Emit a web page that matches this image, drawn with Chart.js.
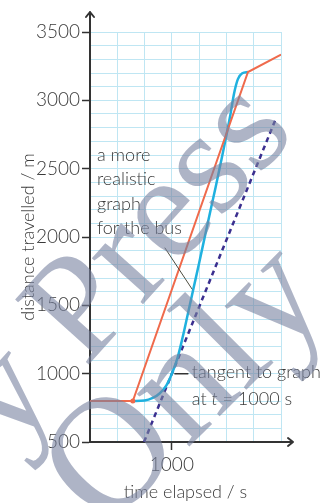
<!DOCTYPE html>
<html>
<head>
<meta charset="utf-8">
<script src="https://cdn.jsdelivr.net/npm/chart.js@4"></script>
<style>
  html, body { margin: 0; padding: 0; background: #fff; }
  #wrap { width: 334px; height: 503px; }
</style>
</head>
<body>
<div id="wrap"><canvas id="busChart" width="334" height="503"></canvas></div>
<script>
// DATA
const timeBus = [700, 857, 1279, 1400];
const distBus = [800, 800, 3207, 3335];

const timeReal = [857, 900, 930, 955, 980, 1000, 1020, 1040, 1060, 1080, 1100, 1120, 1140, 1160, 1180, 1200, 1215, 1228, 1242, 1258, 1279];
const distReal = [800, 803, 822, 855, 915, 1000, 1110, 1270, 1450, 1630, 1810, 1995, 2180, 2360, 2550, 2745, 2900, 3050, 3155, 3198, 3207];

const timeTangent = [898, 1378];
const distTangent = [500, 2850];

const xTickLabels = [1000];
const yTickLabels = [500, 1000, 1500, 2000, 2500, 3000, 3500];

const FONT = '"Lato Light", Lato';
const TEXT = '#3a3a3a';
const AXIS = '#333333';

function toPoints(xs, ys) {
    return xs.map((t, i) => ({ x: t, y: ys[i] }));
}

// EXTRA DRAWING: axis arrows, notes, watermark
const extras = {
    id: 'extras',
    afterDraw(chart) {
        const { ctx, scales: { x, y } } = chart;
        const x0 = x.left, y0 = y.bottom;

        ctx.save();
        ctx.strokeStyle = AXIS;
        ctx.lineWidth = 2;
        ctx.lineCap = 'round';
        ctx.lineJoin = 'round';
        // y arrow
        ctx.beginPath();
        ctx.moveTo(x0, y.top);
        ctx.lineTo(x0, y.top - 20);
        ctx.moveTo(x0 - 4, y.top - 15);
        ctx.lineTo(x0, y.top - 20);
        ctx.lineTo(x0 + 4, y.top - 15);
        // x arrow
        ctx.moveTo(x.right, y0);
        ctx.lineTo(x.right + 12, y0);
        ctx.moveTo(x.right + 7, y0 - 4);
        ctx.lineTo(x.right + 12, y0);
        ctx.lineTo(x.right + 7, y0 + 4);
        ctx.stroke();

        // notes
        ctx.fillStyle = TEXT;
        ctx.font = '300 18px ' + FONT;
        ctx.textBaseline = 'middle';
        ctx.textAlign = 'left';
        ['a more', 'realistic', 'graph', 'for the bus'].forEach((s, i) => {
            ctx.fillText(s, 97, 155 + i * 24.5);
        });
        ctx.strokeStyle = '#4d4d40';
        ctx.lineWidth = 1;
        ctx.beginPath();
        ctx.moveTo(165, 248);
        ctx.lineTo(192, 289);
        ctx.stroke();

        const tx = x.getPixelForValue(1000);
        const ty = y.getPixelForValue(1000);
        ctx.strokeStyle = AXIS;
        ctx.lineWidth = 1.5;
        ctx.beginPath();
        ctx.moveTo(tx + 3, ty);
        ctx.lineTo(tx + 16, ty);
        ctx.stroke();
        ctx.fillText('tangent to graph', tx + 20, ty - 1);
        let px = tx + 20;
        const line2 = ty + 26;
        ctx.fillText('at ', px, line2);
        px += ctx.measureText('at ').width;
        ctx.font = 'italic 300 18px ' + FONT;
        ctx.fillText('t', px, line2);
        px += ctx.measureText('t').width;
        ctx.font = '300 18px ' + FONT;
        ctx.fillText(' = 1000 s', px, line2);

        // watermark
        ctx.globalAlpha = 0.6;
        ctx.fillStyle = 'rgb(120,130,160)';
        ctx.textBaseline = 'alphabetic';
        ctx.font = '150px "Liberation Serif"';
        ctx.save();
        ctx.translate(10, 452);
        ctx.rotate(-48 * Math.PI / 180);
        ctx.fillText('y Press', 0, 0);
        ctx.restore();
        ctx.font = '162px "Liberation Serif"';
        ctx.save();
        ctx.translate(104, 532);
        ctx.rotate(-45 * Math.PI / 180);
        ctx.fillText('Only', 0, 0);
        ctx.restore();
        ctx.restore();
    }
};

new Chart(document.getElementById('busChart'), {
    type: 'line',
    data: {
        datasets: [
            {
                data: toPoints(timeBus, distBus),
                borderColor: '#ef6a4c',
                backgroundColor: '#ef6a4c',
                borderWidth: 2,
                pointRadius: ctx => ctx.dataIndex === 1 ? 2.5 : 0,
                pointBorderWidth: 0,
                tension: 0
            },
            {
                data: toPoints(timeReal, distReal),
                borderColor: '#1fb1df',
                borderWidth: 2.5,
                pointRadius: 0,
                cubicInterpolationMode: 'monotone'
            },
            {
                data: toPoints(timeTangent, distTangent),
                borderColor: '#3b2f8f',
                borderWidth: 2.5,
                borderDash: [5, 4],
                pointRadius: 0
            }
        ]
    },
    options: {
        responsive: false,
        animation: false,
        layout: { padding: { top: 32, right: 53, left: 0, bottom: 0 } },
        plugins: {
            legend: { display: false },
            tooltip: { enabled: false }
        },
        scales: {
            x: {
                type: 'linear',
                min: 700,
                max: 1400,
                afterFit: s => { s.height = 61; },
                border: { color: AXIS, width: 2 },
                grid: {
                    color: '#bfe6f3',
                    lineWidth: 1,
                    tickLength: 8,
                    tickColor: c => xTickLabels.includes(c.tick.value) ? AXIS : 'rgba(0,0,0,0)',
                    tickWidth: 1.5
                },
                ticks: {
                    stepSize: 100,
                    autoSkip: false,
                    maxRotation: 0,
                    padding: 3,
                    color: TEXT,
                    font: { family: FONT, size: 19, weight: 300 },
                    callback: v => xTickLabels.includes(v) ? String(v) : ''
                },
                title: {
                    display: true,
                    text: 'time elapsed / s',
                    color: TEXT,
                    font: { family: FONT, size: 18, weight: 300 },
                    padding: { top: 0, bottom: 0 }
                }
            },
            y: {
                type: 'linear',
                min: 500,
                max: 3500,
                afterFit: s => { s.width = 90; },
                border: { color: AXIS, width: 2 },
                grid: {
                    color: '#bfe6f3',
                    lineWidth: 1,
                    tickLength: 8,
                    tickColor: c => yTickLabels.includes(c.tick.value) ? AXIS : 'rgba(0,0,0,0)',
                    tickWidth: 1.5
                },
                ticks: {
                    stepSize: 100,
                    autoSkip: false,
                    padding: 2,
                    color: TEXT,
                    font: { family: FONT, size: 19, weight: 300 },
                    callback: v => yTickLabels.includes(v) ? String(v) : ''
                },
                title: {
                    display: true,
                    text: 'distance travelled / m',
                    color: TEXT,
                    font: { family: FONT, size: 18, weight: 300 },
                    padding: { top: 17, bottom: 0 }
                }
            }
        }
    },
    plugins: [extras]
});
</script>
</body>
</html>
